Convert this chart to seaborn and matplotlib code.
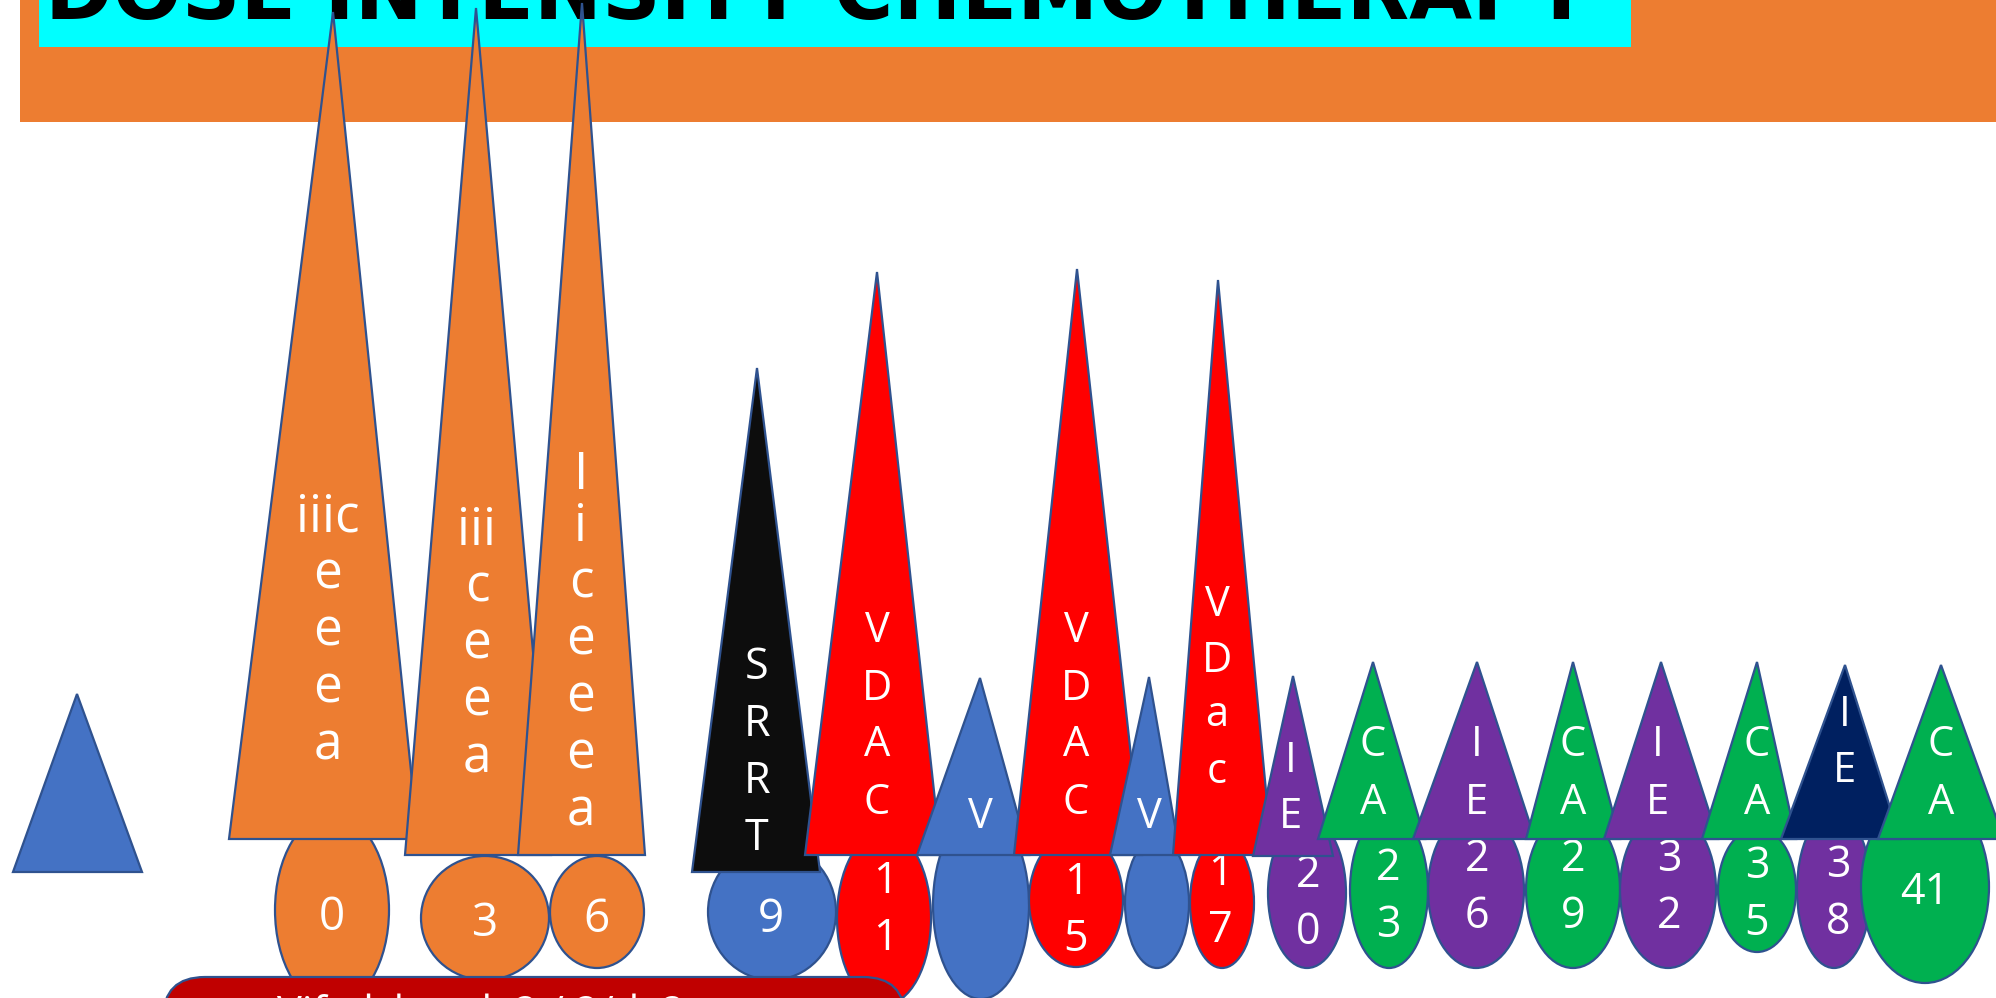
import matplotlib
matplotlib.use("Agg")
import matplotlib.pyplot as plt
from matplotlib.patches import Polygon, Ellipse, Rectangle, FancyBboxPatch
import seaborn as sns

sns.set_theme(style="white")
plt.rcParams["font.family"] = ["Open Sans", "DejaVu Sans"]

# ---------------------------------------------------------------- data
TITLE = "DOSE INTENSITY CHEMOTHERAPY"
FOOTNOTE = "Vif. dsb  ud  2 / 2/d  2"

# drug letters written down each cone, left to right
block_letters = [
    [],
    ["iiic", "e", "e", "e", "a"],
    ["iii", "c", "e", "e", "a"],
    ["I", "i", "c", "e", "e", "e", "a"],
    ["S", "R", "R", "T"],
    ["V", "D", "A", "C"],
    ["V"],
    ["V", "D", "A", "C"],
    ["V"],
    ["V", "D", "a", "c"],
    ["I", "E"],
    ["C", "A"],
    ["I", "E"],
    ["C", "A"],
    ["I", "E"],
    ["C", "A"],
    ["I", "E"],
    ["C", "A"],
]
block_group = ["vinc", "induction", "induction", "induction", "rt", "vdac",
               "vinc", "vdac", "vinc", "vdac", "ie", "ca", "ie", "ca", "ie",
               "ca", "ie_late", "ca"]

# treatment weeks marked on the ovals below the cones
week_values = [0, 3, 6, 9, 11, None, 15, None, 17, 20, 23, 26, 29, 32, 35, 38, 41]
week_group = ["induction", "induction", "induction", "vinc", "vdac", "vinc",
              "vdac", "vinc", "vdac", "ie", "ca", "ie", "ca", "ie", "ca", "ie", "ca"]

group_colors = {
    "induction": "#ED7D31",
    "vinc": "#4472C4",
    "rt": "#0D0D0D",
    "vdac": "#FF0000",
    "ie": "#7030A0",
    "ca": "#00B050",
    "ie_late": "#002060",
}
palette = dict(zip(group_colors, sns.color_palette(list(group_colors.values()))))

# ---------------------------------------------------------------- layout (pixels)
W, H = 1996, 998
EDGE = "#2F528F"

# cones: apex x, apex y, base left, base right, base y
cone_apex_x = [77, 333, 476, 582, 757, 877, 980, 1077, 1149, 1218, 1293, 1373,
               1477, 1573, 1661, 1757, 1845, 1941]
cone_apex_y = [694, 12, 8, 3, 368, 272, 678, 269, 677, 280, 676, 662, 662, 662,
               662, 662, 665, 665]
cone_left = [13, 229, 405, 518, 692, 805, 917, 1014, 1110, 1173, 1253, 1318,
             1413, 1526, 1604, 1702, 1781, 1878]
cone_right = [142, 418, 551, 645, 820, 941, 1029, 1142, 1180, 1272, 1333, 1425,
              1535, 1620, 1718, 1796, 1900, 2004]
cone_base = [872, 839, 855, 855, 872, 855, 855, 855, 855, 855, 856, 839, 839,
             839, 839, 839, 839, 839]
cone_text_x = [77, 328, 477, 581, 757, 877, 980, 1076, 1149, 1217, 1291, 1373,
               1477, 1573, 1658, 1757, 1845, 1941]
cone_text_y = [0, 632, 645, 641, 749, 713, 813, 713, 813, 686, 785, 770, 770,
               770, 770, 770, 739, 770]
cone_font = [30, 37, 37, 37, 31, 30, 30, 30, 30, 30, 30, 30, 30, 30, 30, 30, 30, 30]

# ovals: centre x, centre y, half width, half height
oval_x = [332, 485, 597, 772, 884, 981, 1076, 1157, 1222, 1307, 1389, 1476,
          1573, 1668, 1757, 1834, 1925]
oval_y = [910, 918, 912, 912, 918, 905, 900, 903, 903, 893, 890, 890, 890, 890,
          890, 890, 887]
oval_a = [57, 64, 47, 64, 47, 48, 47, 32, 32, 39, 39, 48, 47, 48, 39, 37, 64]
oval_b = [96, 62, 56, 68, 87, 94, 67, 65, 65, 75, 78, 78, 78, 78, 62, 78, 96]
oval_text_x = [332, 485, 597, 771, 885, 981, 1076, 1157, 1220, 1308, 1388, 1477,
               1573, 1669, 1757, 1838, 1925]
oval_text_y = [913, 920, 915, 915, 906, 0, 907, 0, 898, 900, 893, 884, 884, 884,
               891, 890, 888]
oval_stacked = [True] * 16 + [False]
oval_font = [33, 33, 33, 33, 31, 31, 31, 31, 31, 31, 31, 31, 31, 31, 31, 31, 31]

LINE_STEP = 57


def em_px(fs):
    return fs * 100 / 72


def write_column(ax, x, yc, lines, fs, z):
    n = len(lines)
    for i, s in enumerate(lines):
        y = yc + (i - (n - 1) / 2) * LINE_STEP
        tall = any(ch.isupper() or ch.isdigit() or ch in "bdfhklt" for ch in s)
        off = 0.36 * em_px(fs) if tall else 0.27 * em_px(fs)
        ax.text(x, y + off, s, color="white", fontsize=fs, ha="center",
                va="baseline", zorder=z)


# ---------------------------------------------------------------- figure
fig = plt.figure(figsize=(W / 100, H / 100), dpi=100)
ax = fig.add_axes([0, 0, 1, 1])
ax.set_xlim(0, W)
ax.set_ylim(H, 0)
ax.axis("off")

# title banner
ax.add_patch(Rectangle((20, -10), W, 132, facecolor="#ED7D31", edgecolor="none", zorder=1))
ax.add_patch(Rectangle((39, -10), 1592, 57, facecolor="#00FFFF", edgecolor="none", zorder=1.1))
title = ax.text(45, 19, TITLE, fontsize=100, ha="left", va="baseline", color="black",
                family=["DejaVu Sans"], fontweight="bold", zorder=1.2)
renderer = fig.canvas.get_renderer()
bb = title.get_window_extent(renderer)
title.set_fontsize(100 * 1546 / bb.width)

# ovals with week numbers
for i, wk in enumerate(week_values):
    ax.add_patch(Ellipse((oval_x[i], oval_y[i]), 2 * oval_a[i], 2 * oval_b[i],
                         facecolor=palette[week_group[i]], edgecolor=EDGE,
                         linewidth=1.6, zorder=2 + i * 0.01))
    if wk is None:
        continue
    lines = list(str(wk)) if oval_stacked[i] else [str(wk)]
    write_column(ax, oval_text_x[i], oval_text_y[i], lines, oval_font[i], 2.5)

# cones with drug letters
for i, letters in enumerate(block_letters):
    pts = [(cone_apex_x[i], cone_apex_y[i]), (cone_right[i], cone_base[i]),
           (cone_left[i], cone_base[i])]
    ax.add_patch(Polygon(pts, closed=True, facecolor=palette[block_group[i]],
                         edgecolor=EDGE, linewidth=1.6, joinstyle="miter",
                         zorder=3 + i * 0.01))
    if letters:
        write_column(ax, cone_text_x[i], cone_text_y[i], letters, cone_font[i], 4)

# footnote box along the bottom edge
ax.add_patch(FancyBboxPatch((163, 977), 742, 90,
                            boxstyle="round,pad=0,rounding_size=42",
                            facecolor="#C00000", edgecolor=EDGE, linewidth=1.6,
                            zorder=5))
ax.text(277, 1026, FOOTNOTE, color="white", fontsize=30, ha="left",
        va="baseline", zorder=6)

fig.savefig("out.png", dpi=100)
